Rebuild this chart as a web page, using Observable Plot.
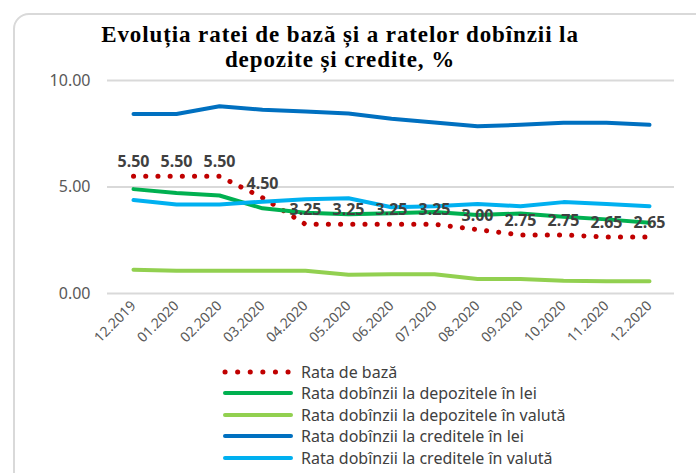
<!DOCTYPE html>
<html>
<head>
<meta charset="utf-8">
<script src="https://cdn.jsdelivr.net/npm/d3@7"></script>
<script src="https://cdn.jsdelivr.net/npm/@observablehq/plot@0.6"></script>
<style>
  html, body { margin: 0; padding: 0; background: #fff; }
  #wrap { position: relative; width: 696px; height: 473px; overflow: hidden; font-family: "Noto Sans", sans-serif; }
  #frame { position: absolute; left: 13px; top: 13px; width: 700px; height: 480px; border: 2px solid #d9d9d9; border-radius: 16px; box-sizing: border-box; }
  #title { position: absolute; left: 0; top: 22px; width: 680px; text-align: center; font-family: "Liberation Serif", serif; font-weight: bold; font-size: 23px; letter-spacing: 0.9px; line-height: 25px; color: #000; }
  #chart { position: absolute; left: 0; top: 0; }
  #legend { position: absolute; left: 222px; top: 361px; font-size: 16px; color: #404040; }
  .row { display: flex; align-items: center; height: 21.5px; }
  .row svg { margin-right: 7px; }
</style>
</head>
<body>
<div id="wrap">
  <div id="frame"></div>
  <div id="chart"></div>
  <div id="title">Evoluția ratei de bază și a ratelor dobînzii la<br>depozite și credite, %</div>
  <div id="legend"></div>
</div>
<script>
const months = ["12.2019","01.2020","02.2020","03.2020","04.2020","05.2020","06.2020","07.2020","08.2020","09.2020","10.2020","11.2020","12.2020"];
const rataBaza = [5.50,5.50,5.50,4.50,3.25,3.25,3.25,3.25,3.00,2.75,2.75,2.65,2.65];
const depLei = [4.90,4.72,4.60,4.00,3.79,3.72,3.77,3.83,3.68,3.76,3.60,3.48,3.32];
const depValuta = [1.12,1.07,1.07,1.07,1.07,0.88,0.90,0.90,0.68,0.68,0.60,0.57,0.57];
const credLei = [8.43,8.43,8.79,8.63,8.54,8.45,8.20,8.03,7.85,7.92,8.02,8.02,7.92];
const credValuta = [4.39,4.18,4.18,4.31,4.42,4.47,4.05,4.10,4.20,4.10,4.29,4.20,4.10];
const yTicks = [0, 5, 10];

const seriesNames = [
  "Rata de bază",
  "Rata dobînzii la depozitele în lei",
  "Rata dobînzii la depozitele în valută",
  "Rata dobînzii la creditele în lei",
  "Rata dobînzii la creditele în valută"
];
const seriesColors = ["#c00000", "#00b050", "#92d050", "#0070c0", "#00b0f0"];
const seriesValues = [rataBaza, depLei, depValuta, credLei, credValuta];

const rows = (vals) => months.map((m, i) => ({month: m, value: vals[i]}));

const solidLines = [1, 2, 3, 4].map(k =>
  Plot.line(rows(seriesValues[k]), {x: "month", y: "value", stroke: seriesColors[k], strokeWidth: 4, strokeLinejoin: "round", strokeLinecap: "round"})
);

const chart = Plot.plot({
  width: 696,
  height: 473,
  marginTop: 80,
  marginBottom: 180,
  marginLeft: 107,
  marginRight: 22,
  style: {fontFamily: "Noto Sans, sans-serif", background: "transparent"},
  x: {type: "point", domain: months, padding: 0.5, label: null},
  y: {domain: [0, 10], label: null},
  marks: [
    Plot.ruleY(yTicks, {stroke: "#d9d9d9", strokeWidth: 2}),
    Plot.axisY(yTicks, {tickSize: 0, tickPadding: 17, tickFormat: d => d.toFixed(2), fontSize: 16, fill: "#595959", label: null}),
    Plot.axisX({tickSize: 0, tickPadding: 10, tickRotate: -45, fontSize: 14, fill: "#595959", label: null}),
    Plot.line(rows(rataBaza), {x: "month", y: "value", stroke: seriesColors[0], strokeWidth: 5, strokeLinecap: "round", strokeDasharray: "0.1 12.1"}),
    ...solidLines,
    Plot.text(rows(rataBaza), {x: "month", y: "value", text: d => d.value.toFixed(2), dy: -14, fontSize: 16, fontWeight: "bold", fill: "#404040"})
  ]
});
document.getElementById("chart").appendChild(chart);

const legend = document.getElementById("legend");
seriesNames.forEach((name, k) => {
  const row = document.createElement("div");
  row.className = "row";
  const dash = k === 0 ? 'stroke-dasharray="0.1 12.5"' : '';
  const sw = k === 0 ? 5 : 4;
  row.innerHTML = `<svg width="72" height="10"><line x1="3" y1="5" x2="69" y2="5" stroke="${seriesColors[k]}" stroke-width="${sw}" stroke-linecap="round" ${dash}/></svg><span>${name}</span>`;
  legend.appendChild(row);
});
</script>
</body>
</html>
